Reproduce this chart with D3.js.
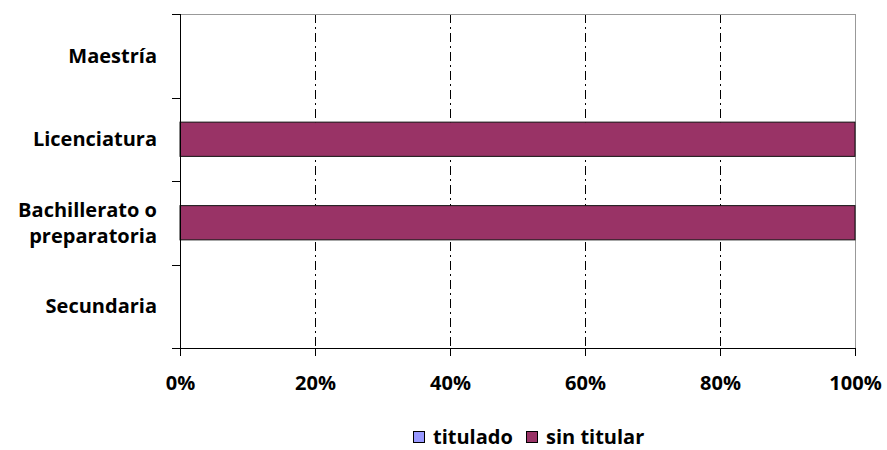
<!DOCTYPE html>
<html>
<head>
<meta charset="utf-8">
<script src="https://cdn.jsdelivr.net/npm/d3@7"></script>
<style>
body { margin:0; background:#fff; }
svg text { font-family:"Open Sans", "Liberation Sans", sans-serif; font-weight:bold; fill:#000; }
</style>
</head>
<body>
<svg id="myGraph" width="887" height="450"></svg>
<script>
var categories = ["Maestría", "Licenciatura", "Bachillerato o preparatoria", "Secundaria"];
var seriesNames = ["titulado", "sin titular"];
var titulado = [0, 0, 0, 0];
var sinTitular = [0, 100, 100, 0];
var tickValues = [0, 0.2, 0.4, 0.6, 0.8, 1];
var colors = ["#9999ff", "#993366"];

(function(){
var svg = d3.select("#myGraph");
var mLeft = 180, mRight = 855, mTop = 14, mBottom = 348;
var fs = "20px";

// tabla de filas para d3.stack, normalizado a porcentaje
var rows = categories.map(function(c, i){
	var tot = titulado[i] + sinTitular[i];
	return { cat:c, "titulado": tot ? titulado[i]/tot : 0, "sin titular": tot ? sinTitular[i]/tot : 0 };
});
var stacked = d3.stack().keys(seriesNames)(rows);

var x = d3.scaleLinear().domain([0,1]).range([mLeft,mRight]);
var y = d3.scaleBand().domain(categories).range([mTop,mBottom]).paddingInner(0.59).paddingOuter(0.295);
var yOuter = d3.scaleBand().domain(categories).range([mTop,mBottom]);

// rejilla punto-raya
svg.selectAll("line.grid").data(tickValues.slice(1,-1)).enter()
	.append("line")
	.attr("x1", function(d){ return Math.round(x(d))+0.5; }).attr("x2", function(d){ return Math.round(x(d))+0.5; })
	.attr("y1", mTop).attr("y2", mBottom)
	.attr("stroke", "#000").attr("stroke-width", 1)
	.attr("stroke-dasharray", "9,4,2,4");

// borde arriba y derecha
svg.append("line").attr("x1", mLeft).attr("x2", mRight).attr("y1", mTop+0.5).attr("y2", mTop+0.5).attr("stroke", "#999");
svg.append("line").attr("x1", mRight+0.5).attr("x2", mRight+0.5).attr("y1", mTop).attr("y2", mBottom).attr("stroke", "#999");

// barras
svg.selectAll("g.serie").data(stacked).enter()
	.append("g").attr("class","serie")
	.attr("fill", function(d,i){ return colors[i]; })
	.selectAll("rect").data(function(d){ return d; }).enter()
	.filter(function(d){ return d[1] - d[0] > 0; })
	.append("rect")
	.attr("x", function(d){ return x(d[0]); })
	.attr("width", function(d){ return x(d[1]) - x(d[0]); })
	.attr("y", function(d){ return y(d.data.cat); })
	.attr("height", y.bandwidth())
	.attr("stroke", "#111").attr("stroke-width", 1);

// eje x
var xAxis = svg.append("g").attr("transform", "translate(0," + mBottom + ")")
	.call(d3.axisBottom(x).tickValues(tickValues).tickFormat(d3.format(".0%")).tickSize(8).tickSizeOuter(0).tickPadding(20));
xAxis.select(".domain").attr("stroke", "#000").attr("d", "M" + (mLeft-8) + ",0.5H" + mRight);
xAxis.selectAll("text").style("font-size", fs);

// eje y con marcas entre categorías
svg.append("line").attr("x1", mLeft+0.5).attr("x2", mLeft+0.5).attr("y1", mTop).attr("y2", mBottom).attr("stroke", "#000");
var bounds = categories.map(function(c){ return yOuter(c); }).concat([mBottom]);
svg.selectAll("line.ytick").data(bounds).enter()
	.append("line")
	.attr("x1", mLeft-8).attr("x2", mLeft)
	.attr("y1", function(d){ return Math.round(d)+0.5; }).attr("y2", function(d){ return Math.round(d)+0.5; })
	.attr("stroke", "#000");

// etiquetas de categoría
var labels = {"Bachillerato o preparatoria": ["Bachillerato o", "preparatoria"]};
svg.selectAll("text.cat").data(categories).enter()
	.append("text")
	.attr("text-anchor", "end")
	.attr("x", 157)
	.attr("y", function(d){ return yOuter(d) + yOuter.bandwidth()/2; })
	.style("font-size", fs)
	.each(function(d){
		var lines = labels[d] || [d];
		var t = d3.select(this);
		lines.forEach(function(l, k){
			t.append("tspan").attr("x", 157)
				.attr("dy", k === 0 ? (0.35 - (lines.length-1)*0.65) + "em" : "1.3em")
				.text(l);
		});
	});

// leyenda
var legend = svg.append("g").attr("transform", "translate(413,431)");
var lx = [0, 113];
seriesNames.forEach(function(s, i){
	legend.append("rect").attr("x", lx[i]+0.5).attr("y", 0.5).attr("width", 11).attr("height", 11)
		.attr("fill", colors[i]).attr("stroke", "#000");
	legend.append("text").attr("x", lx[i]+20).attr("y", 6).attr("dy", "0.35em")
		.style("font-size", fs).text(s);
});
})();
</script>
</body>
</html>
